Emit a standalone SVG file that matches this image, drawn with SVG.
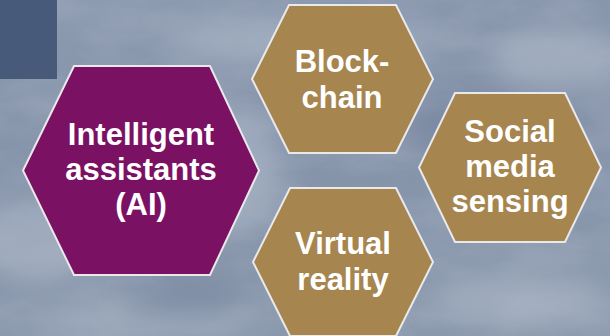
<svg xmlns="http://www.w3.org/2000/svg" width="610" height="336" viewBox="0 0 610 336">
  <defs>
    <linearGradient id="sky" x1="0" y1="0" x2="0.3" y2="1">
      <stop offset="0" stop-color="#8c9ab0"/>
      <stop offset="0.5" stop-color="#8593aa"/>
      <stop offset="1" stop-color="#8a98ad"/>
    </linearGradient>
    <filter id="soft" x="-50%" y="-50%" width="200%" height="200%">
      <feGaussianBlur stdDeviation="14"/>
    </filter>
    <filter id="grain" x="0" y="0" width="100%" height="100%">
      <feTurbulence type="fractalNoise" baseFrequency="0.012 0.03" numOctaves="4" seed="7"/>
      <feColorMatrix type="matrix" values="0 0 0 0 1  0 0 0 0 1  0 0 0 0 1  0 0 0 0.55 -0.2"/>
    </filter>
    <style>
      .hex { stroke: #e9e9ec; stroke-width: 2; stroke-linejoin: miter; }
      .ai { fill: #7b1163; }
      .gold { fill: #a6854f; }
      .label { font-family: "Liberation Sans", Arial, sans-serif; font-weight: bold; font-size: 31px; fill: #ffffff; text-anchor: middle; }
    </style>
  </defs>

  <!-- cloudy sky backdrop -->
  <g id="backdrop">
    <rect width="610" height="336" fill="url(#sky)"/>
    <rect width="610" height="336" filter="url(#grain)" opacity="0.35"/>
    <g filter="url(#soft)" fill="#b3bdcc" opacity="0.55">
      <ellipse cx="300" cy="40" rx="140" ry="22"/>
      <ellipse cx="560" cy="60" rx="70" ry="30"/>
      <ellipse cx="40" cy="240" rx="70" ry="40"/>
      <ellipse cx="140" cy="320" rx="110" ry="18"/>
      <ellipse cx="520" cy="300" rx="90" ry="25"/>
      <ellipse cx="240" cy="170" rx="40" ry="60"/>
    </g>
    <g filter="url(#soft)" fill="#6f7f99" opacity="0.5">
      <ellipse cx="470" cy="130" rx="60" ry="30"/>
      <ellipse cx="180" cy="300" rx="60" ry="20"/>
    </g>
    <rect x="0" y="0" width="57" height="79" fill="#485a7a"/>
  </g>

  <g id="connectors"/>

  <g id="node-ai">
    <polygon class="hex ai" points="74,66 210,66 259,170.5 210,275 74,275 23,170.5"/>
    <text class="label" x="141" y="145">Intelligent</text>
    <text class="label" x="141" y="180">assistants</text>
    <text class="label" x="141" y="215">(AI)</text>
  </g>

  <g id="node-blockchain">
    <polygon class="hex gold" points="289,5 396,5 433,79 396,153 289,153 252,79"/>
    <text class="label" x="342" y="72">Block-</text>
    <text class="label" x="342" y="108">chain</text>
  </g>

  <g id="node-social">
    <polygon class="hex gold" points="455,93 565,93 601,167.5 565,242 455,242 419,167.5"/>
    <text class="label" x="510" y="142">Social</text>
    <text class="label" x="510" y="177">media</text>
    <text class="label" x="510" y="212">sensing</text>
  </g>

  <g id="node-vr">
    <polygon class="hex gold" points="290,188 396,188 433,262 396,336 290,336 253,262"/>
    <text class="label" x="343" y="254">Virtual</text>
    <text class="label" x="343" y="290">reality</text>
  </g>
</svg>
